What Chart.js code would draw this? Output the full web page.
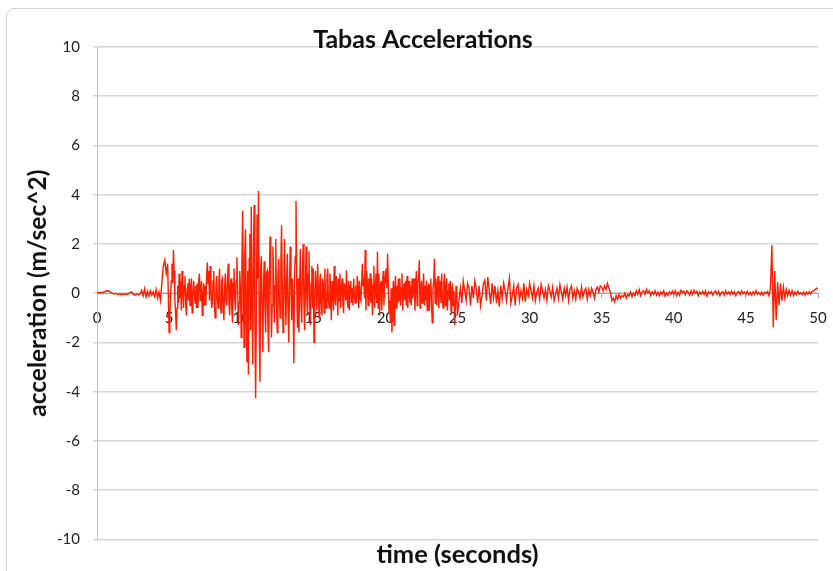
<!DOCTYPE html>
<html>
<head>
<meta charset="utf-8">
<script src="https://cdn.jsdelivr.net/npm/chart.js@4/dist/chart.umd.min.js"></script>
<style>
  body { margin: 0; background: #ffffff; }
  #wrap { position: relative; width: 833px; height: 571px; overflow: hidden; }
  #frame { position: absolute; left: 6px; top: 8px; width: 840px; height: 600px;
           border: 1px solid #d4d4d4; border-radius: 8px; }
  #myChart { position: absolute; left: 0; top: 0; }
</style>
</head>
<body>
<div id="wrap">
  <div id="frame"></div>
  <canvas id="myChart" width="833" height="571"></canvas>
</div>
<script>
// start time and sample step (seconds) of each piece below
var segStart = [0, 5, 10, 15, 20, 25, 30, 35, 40, 45];
var segStep  = [0.1, 0.05, 0.05, 0.05, 0.05, 0.1, 0.1, 0.1, 0.1, 0.1];

// acceleration readings (m/sec^2)
var seg0 = [0.02, 0.03, 0.01, 0.04, 0.02, 0.05, 0.08, 0.1, 0.09, 0.06,
            0.02, -0.02, -0.03, -0.01, -0.04, -0.05, -0.03, -0.06, -0.04, -0.05,
            -0.03, -0.05, -0.02, 0.02, 0.05, -0.04, -0.08, -0.06, -0.03, -0.07,
            -0.02, 0.12, -0.1, 0.18, -0.15, 0.08, -0.12, 0.1, -0.08, 0.06,
            -0.14, 0.15, -0.2, 0.05, -0.3, 0.45, 1.1, 1.35, 0.8, 1.2];
var seg1 = [-1.6, -0.9, -0.2, 0.5, 1.2, 0.4, 1.75, 0.9, -0.3, -0.8,
            -1.5, -0.6, 0.3, -0.4, 0.8, -0.2, 0.5, -0.7, 0.9, 0.2,
            -0.6, 0.3, 0.7, -0.4, -0.9, 0.2, 0.4, -0.3, 0.6, -0.5,
            0.2, 0.6, -0.8, -0.2, 0.5, 0.1, -0.4, 0.3, -0.6, 0.4,
            -0.6, 0.5, 0.8, -0.3, 0.2, 0.5, -0.9, -0.2, 0.4, -0.5,
            0.3, -0.5, 0.7, 1.25, 0.4, 0.9, -0.3, 1.1, 0.2, -0.6,
            -0.4, 0.5, 0.9, -0.6, -1.0, 0.3, 0.7, -0.2, -0.6, 0.4,
            1.0, -0.3, -0.8, 0.5, 0.6, -0.4, -1.1, 0.2, 0.8, -0.3,
            -0.5, 0.6, 1.2, -0.4, -0.9, 0.3, 0.6, -0.7, -1.2, 0.4,
            1.0, -0.2, -0.7, 0.5, 1.46, 0.3, -1.3, -0.4, 0.9, 0.2];
var seg2 = [-1.8, 1.2, 3.35, 0.5, -2.2, 1.6, 2.6, -0.8, -2.8, 0.9,
            -3.3, 1.4, 2.4, -1.5, 3.5, -0.6, -2.9, 1.8, 3.58, -1.2,
            -4.27, -1.0, 3.2, 0.6, 4.15, -1.5, -3.6, 1.0, 1.5, -0.8,
            -2.4, 0.4, 1.3, -0.6, -1.6, 0.8, 0.9, -1.2, -2.4, 0.5,
            2.3, 0.4, -1.8, -0.5, 1.9, 0.6, -1.2, 0.3, 2.2, -0.4,
            -1.6, 0.5, 1.4, -0.3, -1.0, 1.2, 2.76, 0.2, -1.6, -0.6,
            2.2, 0.5, -1.3, 0.4, 1.6, -0.7, -2.0, 0.3, 1.9, 0.2,
            -1.1, 0.6, -0.4, -2.85, 0.8, 1.5, 3.75, 0.4, -1.4, 0.6,
            -1.6, 0.2, 1.8, -0.5, -1.2, 1.0, 2.0, -0.4, -1.5, 0.3,
            1.9, -0.2, -0.9, 0.8, 1.7, -0.5, -1.3, 0.4, 1.1, -0.6];
var seg3 = [1.0, -2.0, -0.6, 0.9, 0.3, -0.7, 1.2, 0.2, -1.0, 0.5,
            0.8, -0.4, -0.9, 0.6, 0.3, -0.8, 1.0, -0.2, -0.6, 0.7,
            1.0, -0.3, -0.6, 0.8, 0.2, -1.1, 0.5, 0.1, -0.7, 1.1,
            -0.2, -0.5, 0.7, 0.3, -0.9, 0.6, -0.3, 0.8, -0.6, 0.2,
            0.6, -0.4, -0.8, 0.4, 0.2, -0.3, 0.93, -0.2, -0.6, 0.5,
            -0.7, 0.3, 0.5, -0.4, 0.2, -0.5, 0.6, -0.1, -0.4, 0.3,
            -0.4, 0.7, 0.2, -0.6, 0.5, -0.2, -0.3, 0.4, 1.2, 0.3,
            0.6, -0.2, 1.75, -0.7, 0.9, 0.4, -0.5, 0.6, -0.3, 0.8,
            -0.4, 0.6, -0.9, 0.3, 1.1, -0.6, 0.2, 0.8, -0.4, 1.68,
            -0.6, 0.8, -0.9, 0.3, 0.5, -0.7, 0.4, 0.9, -0.5, 0.6];
var seg4 = [0.5, 1.0, 0.2, 1.6, 0.4, -0.8, -0.3, -1.2, 0.2, -1.6,
            -0.5, 0.5, -1.3, 0.2, 0.7, -0.6, 0.3, -0.4, 0.6, -0.3,
            0.6, -0.5, 0.2, 0.8, -0.7, 0.1, 0.4, -0.3, 0.5, -0.5,
            0.7, -0.6, 0.2, 0.5, -0.4, 0.3, -0.5, 0.6, -0.2, 0.4,
            0.6, -0.7, 0.3, 0.9, -0.5, 0.4, 0.6, 1.34, -0.6, 0.2,
            0.5, -0.4, 0.1, 0.8, -0.5, 0.3, -0.3, 0.5, -0.7, 0.2,
            0.4, -0.7, 0.3, 0.6, -0.5, -1.2, 0.2, 0.5, 1.4, -0.4,
            0.6, -0.5, 0.2, 0.7, -0.6, 0.3, 0.5, -0.4, 0.8, -0.2,
            -0.6, 0.4, 0.8, -0.5, 0.2, 0.6, -0.7, 0.1, 0.4, -0.3,
            0.5, -0.75, 0.2, 0.3, -0.5, 0.1, -1.3, -0.6, 0.3, -0.2];
var seg5 = [-0.9, -0.3, 0.2, -0.4, 0.5, 0.1, -0.3, 0.4, 0.2, -0.5,
            0.3, -0.2, 0.5, 0.2, -0.4, 0.3, -0.5, -0.1, 0.4, 0.53,
            -0.3, 0.66, 0.1, -0.45, 0.4, -0.2, 0.3, -0.4, 0.1, -0.55,
            0.3, -0.2, 0.4, 0.1, -0.3, 0.2, 0.6, -0.4, -0.1, 0.3,
            -0.5, 0.2, 0.35, -0.3, 0.1, -0.2, 0.4, -0.35, 0.15, -0.1];
var seg6 = [0.4, 0.1, -0.2, 0.3, -0.3, 0.05, 0.2, -0.25, 0.35, 0.1,
            -0.2, 0.15, -0.3, 0.3, 0.1, -0.15, 0.25, -0.3, -0.05, 0.2,
            -0.2, 0.35, 0.05, -0.25, 0.2, -0.1, 0.25, -0.3, 0.15, 0.3,
            -0.2, 0.1, -0.25, 0.2, 0.05, -0.2, 0.25, -0.15, 0.1, 0.2,
            -0.25, 0.15, -0.1, 0.2, 0.05, -0.2, 0.15, 0.25, 0.05, 0.3];
var seg7 = [0.25, 0.1, 0.3, 0.15, 0.4, 0.2, 0.05, -0.3, -0.2, -0.35,
            -0.1, -0.25, -0.05, -0.2, -0.1, -0.15, 0.0, -0.2, -0.05, -0.12,
            0.05, -0.15, 0.0, -0.1, 0.1, -0.05, 0.15, -0.1, 0.05, 0.1,
            -0.05, 0.15, 0.0, 0.1, -0.1, 0.05, -0.05, 0.1, -0.08, 0.05,
            -0.1, 0.05, -0.05, 0.1, -0.12, 0.02, -0.08, 0.06, -0.04, 0.08];
var seg8 = [-0.05, 0.1, -0.1, 0.05, -0.08, 0.12, 0.02, 0.08, -0.06, 0.1,
            0.04, -0.08, 0.1, -0.05, 0.12, 0.0, 0.08, -0.1, 0.05, -0.04,
            0.08, -0.06, 0.1, -0.12, 0.05, -0.02, 0.06, -0.08, 0.04, 0.1,
            -0.05, 0.08, -0.1, 0.02, 0.06, -0.08, 0.1, -0.04, 0.05, -0.06,
            0.08, -0.04, 0.06, -0.1, 0.03, 0.07, -0.06, 0.1, -0.02, 0.05];
var seg9 = [-0.05, 0.08, -0.06, 0.04, -0.08, 0.06, -0.04, 0.1, -0.05, 0.03,
            -0.06, 0.05, -0.08, 0.04, -0.02, 0.07, -0.1, 0.2, 1.95, -1.38,
            0.9, -1.1, 0.45, -0.5, 0.4, -0.3, 0.25, -0.2, 0.15, -0.1,
            0.12, -0.08, 0.1, -0.1, 0.05, -0.06, 0.08, -0.04, 0.02, -0.06,
            0.05, -0.08, 0.04, -0.05, 0.06, -0.02, 0.08, 0.1, 0.15, 0.2,
            0.15];

var segments = [seg0, seg1, seg2, seg3, seg4, seg5, seg6, seg7, seg8, seg9];

// (time, acceleration) pairs for the line
var points = [];
for (var s = 0; s < segments.length; s++) {
    for (var i = 0; i < segments[s].length; i++) {
        points.push({ x: +(segStart[s] + i * segStep[s]).toFixed(2), y: segments[s][i] });
    }
}

var fontName = "Lato, 'Open Sans', sans-serif";

var ctx = document.getElementById("myChart");
var myChart = new Chart(ctx, {
    type: 'line',
    data: {
        datasets: [{
            label: "acceleration",
            data: points,
            borderColor: 'rgb(255, 30, 0)',
            borderWidth: 1.4,
            pointRadius: 0,
            tension: 0,
            fill: false
        }]
    },
    options: {
        responsive: false,
        animation: false,
        layout: { padding: { left: 21, right: 8, top: 0, bottom: 0 } },
        plugins: {
            legend: { display: false },
            tooltip: { enabled: false },
            title: {
                display: true,
                text: "Tabas Accelerations",
                color: '#111',
                font: { family: fontName, size: 25, weight: 'bold' },
                padding: { top: 25, bottom: -8 }
            },
            subtitle: {
                display: true,
                position: 'bottom',
                fullSize: false,
                text: "time (seconds)",
                color: '#111',
                font: { family: fontName, size: 25.5, weight: 'bold' },
                padding: { top: 0, bottom: 1 }
            }
        },
        scales: {
            x: {
                type: 'linear',
                min: 0,
                max: 50,
                position: { y: 0 },
                ticks: {
                    stepSize: 5,
                    color: '#222',
                    padding: 12,
                    maxRotation: 0,
                    font: { family: fontName, size: 15 }
                },
                grid: { drawOnChartArea: false, tickLength: 4, color: '#a6a6a6' },
                border: { color: '#a6a6a6', width: 1 },
                afterFit: function(scale) {
                    scale.paddingRight = 15;
                }
            },
            y: {
                min: -10,
                max: 10,
                ticks: {
                    stepSize: 2,
                    color: '#222',
                    padding: 13,
                    font: { family: fontName, size: 15 }
                },
                grid: { color: '#d6d6d6', lineWidth: 1.5, tickLength: 4 },
                border: { color: '#c4c4c4', width: 1 },
                title: {
                    display: true,
                    text: "acceleration (m/sec^2)",
                    color: '#111',
                    font: { family: fontName, size: 24.5, weight: 'bold' },
                    padding: { top: 2.4, bottom: 0 }
                },
                afterFit: function(scale) {
                    scale.width = 76;
                }
            }
        }
    }
});
</script>
</body>
</html>
